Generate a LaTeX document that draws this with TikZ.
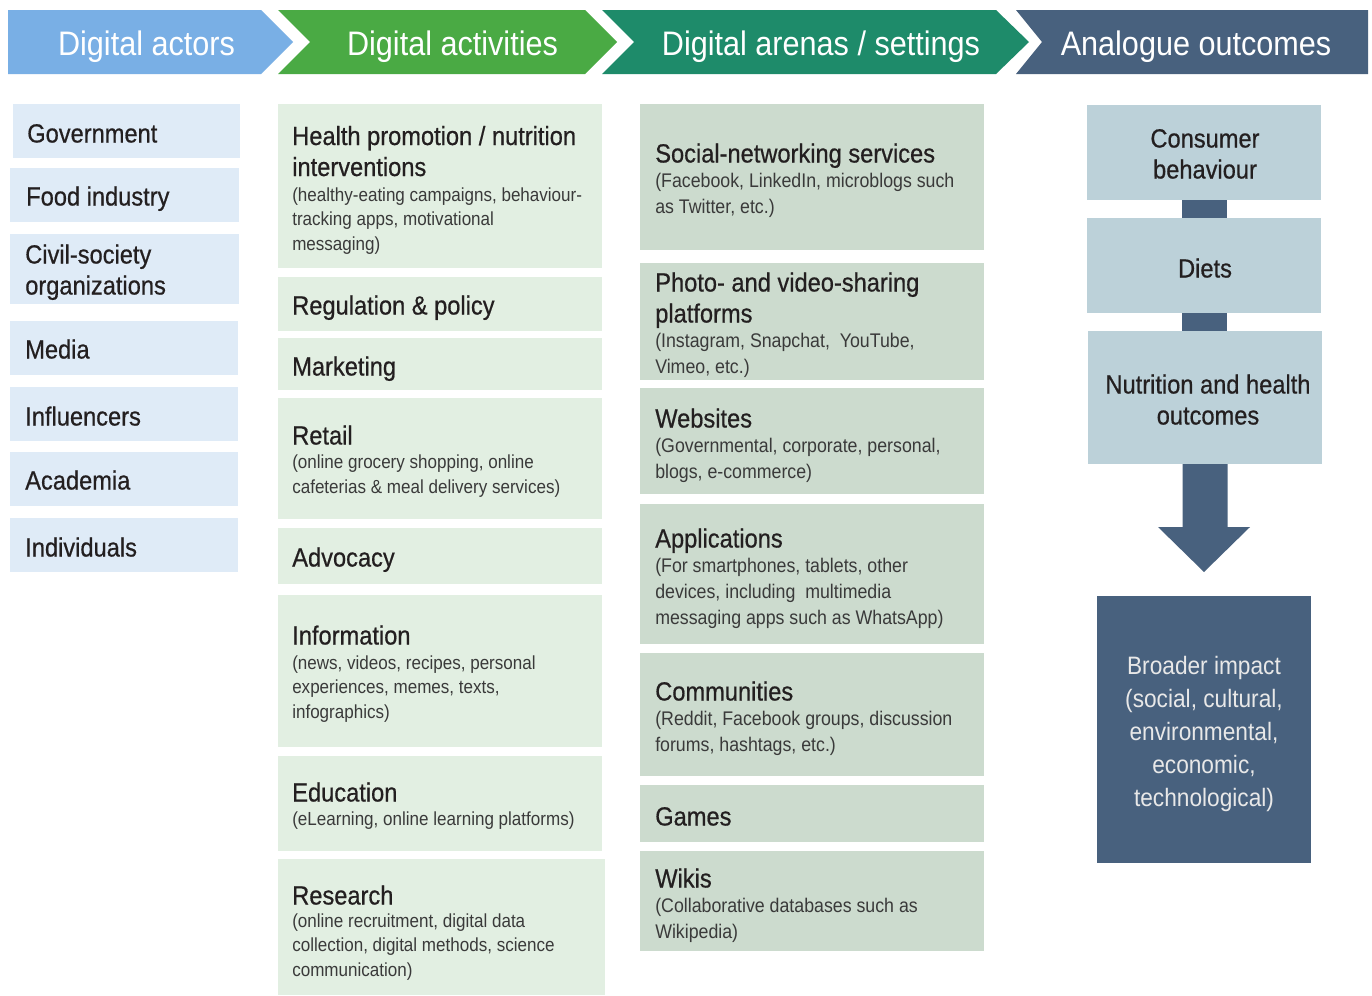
\documentclass[tikz,border=0pt]{standalone}
\usepackage{fontspec}
\setmainfont{Liberation Sans}[FakeStretch=0.9]
\newfontfamily\ttlfamily{Liberation Sans}[FakeStretch=0.9,FakeBold=0.6]
\usetikzlibrary{fit,calc}
\definecolor{hblue}{HTML}{79AFE5}
\definecolor{hgreen}{HTML}{4AAA44}
\definecolor{hteal}{HTML}{1E8B6A}
\definecolor{hslate}{HTML}{48617E}
\definecolor{cone}{HTML}{DFEBF7}
\definecolor{ctwo}{HTML}{E2EFE2}
\definecolor{cthree}{HTML}{CCDBCE}
\definecolor{cfour}{HTML}{BCD1D9}
\definecolor{txt}{HTML}{231F20}
\definecolor{subtxt}{HTML}{3A3A3A}
\definecolor{lighttxt}{HTML}{E8E8E8}
\newcommand\mybox[6]{\node[boxstyle,fill=#6,fit={(#2,#3) (#4,#5)}] (#1) {};}
\begin{document}
\begin{tikzpicture}[x=0.75pt,y=-0.75pt,
  boxstyle/.style={inner sep=0pt,outer sep=0pt,draw=none},
  hdrtext/.style={anchor=base,inner sep=0pt,text=white,font=\fontsize{25.5}{30}\selectfont},
  ttl/.style={anchor=base west,inner sep=0pt,align=left,text=txt,font=\ttlfamily\fontsize{19.7}{23.25}\selectfont},
  ctr/.style={anchor=base,inner sep=0pt,align=center,text=txt,font=\ttlfamily\fontsize{19.7}{23.25}\selectfont},
  subA/.style={anchor=base west,inner sep=0pt,align=left,text=subtxt,font=\fontsize{14.2}{18.4}\selectfont},
  subB/.style={anchor=base west,inner sep=0pt,align=left,text=subtxt,font=\fontsize{14.8}{19.5}\selectfont},
  bigtxt/.style={anchor=base,inner sep=0pt,align=center,text=lighttxt,font=\fontsize{18.9}{24.6}\selectfont},
  barline/.style={draw=hslate,line width=33.75pt}
]
\useasboundingbox (0,0) rectangle (1372,996);
\fill[white] (0,0) rectangle (1372,996);

% ---------- header chevrons ----------
\fill[hblue] (8,10) -- (261,10) -- (293,42) -- (261,74) -- (8,74) -- cycle;
\fill[hgreen] (278,10) -- (585,10) -- (617,42) -- (585,74) -- (278,74) -- (310,42) -- cycle;
\fill[hteal] (602,10) -- (996,10) -- (1029,42) -- (996,74) -- (602,74) -- (634,42) -- cycle;
\fill[hslate] (1016,10) -- (1368,10) -- (1368,74) -- (1016,74) -- (1042,42) -- cycle;
\node[hdrtext] (h1) at (146.5,55) {Digital actors};
\node[hdrtext] (h2) at (452.5,55) {Digital activities};
\node[hdrtext] (h3) at (821,55) {Digital arenas / settings};
\node[hdrtext] (h4) at (1196,55) {Analogue outcomes};

% ---------- column 1 ----------
% (multi-line nodes: base = baseline of the last line)
\mybox{g1}{13}{104}{240}{158}{cone}
\mybox{g2}{10}{168}{239}{222}{cone}
\mybox{g3}{10}{234}{239}{304}{cone}
\mybox{g4}{10}{321}{238}{375}{cone}
\mybox{g5}{10}{387}{238}{441}{cone}
\mybox{g6}{10}{452}{238}{506}{cone}
\mybox{g7}{10}{518}{238}{572}{cone}
\node[ttl] (t1) at (27,142.5) {Government};
\node[ttl] (t2) at (26,205.5) {Food industry};
\node[ttl] (t3) at (25,294.5) {Civil-society\\organizations};
\node[ttl] (t4) at (25,358.5) {Media};
\node[ttl] (t5) at (25,425.5) {Influencers};
\node[ttl] (t6) at (25,489.5) {Academia};
\node[ttl] (t7) at (25,556.5) {Individuals};

% ---------- column 2 ----------
\mybox{a1}{278}{104}{602}{268}{ctwo}
\mybox{a2}{278}{277}{602}{331}{ctwo}
\mybox{a3}{278}{338}{602}{390}{ctwo}
\mybox{a4}{278}{398}{602}{519}{ctwo}
\mybox{a5}{278}{528}{602}{584}{ctwo}
\mybox{a6}{278}{595}{602}{747}{ctwo}
\mybox{a7}{278}{756}{602}{851}{ctwo}
\mybox{a8}{278}{859}{605}{995}{ctwo}
\node[ttl] (at1) at (292,176) {Health promotion / nutrition\\interventions};
\node[subA] (as1) at (292,250.5) {(healthy-eating campaigns, behaviour-\\tracking apps, motivational\\messaging)};
\node[ttl] (at2) at (292,314.5) {Regulation \& policy};
\node[ttl] (at3) at (292,375.5) {Marketing};
\node[ttl] (at4) at (292,444.5) {Retail};
\node[subA] (as4) at (292,493) {(online grocery shopping, online\\cafeterias \& meal delivery services)};
\node[ttl] (at5) at (292,566.5) {Advocacy};
\node[ttl] (at6) at (292,644.5) {Information};
\node[subA] (as6) at (292,718.5) {(news, videos, recipes, personal\\experiences, memes, texts,\\infographics)};
\node[ttl] (at7) at (292,801.5) {Education};
\node[subA] (as7) at (292,825.5) {(eLearning, online learning platforms)};
\node[ttl] (at8) at (292,904.5) {Research};
\node[subA] (as8) at (292,976.5) {(online recruitment, digital data\\collection, digital methods, science\\communication)};

% ---------- column 3 ----------
\mybox{r1}{640}{104}{984}{250}{cthree}
\mybox{r2}{640}{263}{984}{380}{cthree}
\mybox{r3}{640}{388}{984}{494}{cthree}
\mybox{r4}{640}{504}{984}{644}{cthree}
\mybox{r5}{640}{653}{984}{776}{cthree}
\mybox{r6}{640}{785}{984}{842}{cthree}
\mybox{r7}{640}{851}{984}{951}{cthree}
\node[ttl] (rt1) at (655,162.5) {Social-networking services};
\node[subB] (rs1) at (655,213) {(Facebook, LinkedIn, microblogs such\\as Twitter, etc.)};
\node[ttl] (rt2) at (655,322.5) {Photo- and video-sharing\\platforms};
\node[subB] (rs2) at (655,373) {(Instagram, Snapchat,~ YouTube,\\Vimeo, etc.)};
\node[ttl] (rt3) at (655,427.5) {Websites};
\node[subB] (rs3) at (655,478) {(Governmental, corporate, personal,\\blogs, e-commerce)};
\node[ttl] (rt4) at (655,547.5) {Applications};
\node[subB] (rs4) at (655,624) {(For smartphones, tablets, other\\devices, including~ multimedia\\messaging apps such as WhatsApp)};
\node[ttl] (rt5) at (655,700.5) {Communities};
\node[subB] (rs5) at (655,751) {(Reddit, Facebook groups, discussion\\forums, hashtags, etc.)};
\node[ttl] (rt6) at (655,825.5) {Games};
\node[ttl] (rt7) at (655,887.5) {Wikis};
\node[subB] (rs7) at (655,938) {(Collaborative databases such as\\Wikipedia)};

% ---------- column 4 ----------
\mybox{o1}{1087}{105}{1321}{200}{cfour}
\mybox{o2}{1087}{218}{1321}{313}{cfour}
\mybox{o3}{1088}{331}{1322}{464}{cfour}
\mybox{o4}{1097}{596}{1311}{863}{hslate}
\draw[barline] (o1.south) -- (o2.north);
\draw[barline] (o2.south) -- (o2.south |- o3.north);
\coordinate (tip) at (1204,572);
\fill[hslate] ($(o3.south)+(-22.5,0)$) -- ($(o3.south)+(-22.5,63)$) -- ($(o3.south)+(-47,63)$) -- (tip)
  -- ($(o3.south)+(45,63)$) -- ($(o3.south)+(22.5,63)$) -- ($(o3.south)+(22.5,0)$) -- cycle;
\node[ctr] (ot1) at (1205,178.5) {Consumer\\behaviour};
\node[ctr] (ot2) at (1205,277.5) {Diets};
\node[ctr] (ot3) at (1208,424.5) {Nutrition and health\\outcomes};
\node[bigtxt] (ot4) at (1204,806) {Broader impact\\(social, cultural,\\environmental,\\economic,\\technological)};
\end{tikzpicture}
\end{document}
